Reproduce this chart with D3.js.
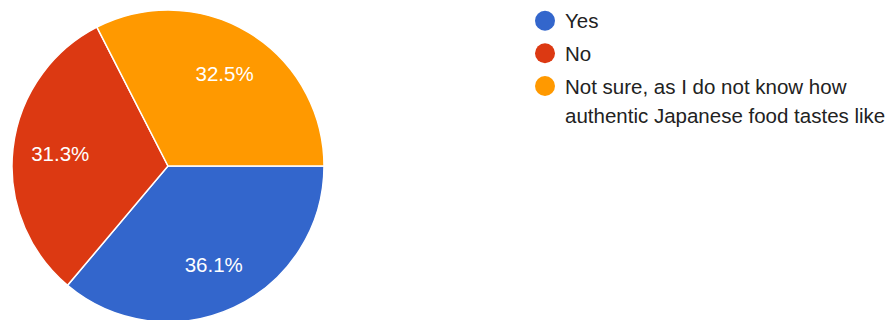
<!DOCTYPE html>
<html>
<head>
<meta charset="utf-8">
<script src="https://cdn.jsdelivr.net/npm/d3@7"></script>
<style>
  html, body { margin: 0; padding: 0; background: #fff; }
  svg { display: block; font-family: "Liberation Sans", Arial, sans-serif; }
</style>
</head>
<body>
<svg id="chart" width="894" height="320"></svg>
<script>
// Survey answers and their shares (percent)
const categories = ["Yes", "No", "Not sure, as I do not know how authentic Japanese food tastes like"];
const legendLines = [["Yes"], ["No"], ["Not sure, as I do not know how", "authentic Japanese food tastes like"]];
const shares = [36.1, 31.3, 32.5];
const colors = ["#3366cc", "#dc3912", "#ff9900"];

const svg = d3.select("#chart");
const cx = 168, cy = 166, radius = 156;

const color = d3.scaleOrdinal().domain(categories).range(colors);

// Slices run clockwise starting at 3 o'clock
const pie = d3.pie()
  .value(d => d.value)
  .sort(null)
  .startAngle(Math.PI / 2)
  .endAngle(Math.PI / 2 + 2 * Math.PI);

const data = categories.map((c, i) => ({ name: c, value: shares[i] }));
const arcs = pie(data);

const arc = d3.arc().innerRadius(0).outerRadius(radius);
const labelR = radius * 0.695;
const labelArc = d3.arc().innerRadius(labelR).outerRadius(labelR);

const g = svg.append("g").attr("transform", `translate(${cx},${cy})`);

g.selectAll("path.slice")
  .data(arcs)
  .join("path")
  .attr("class", "slice")
  .attr("d", arc)
  .attr("fill", d => color(d.data.name))
  .attr("stroke", "#ffffff")
  .attr("stroke-width", 1.5);

g.selectAll("text.pct")
  .data(arcs)
  .join("text")
  .attr("class", "pct")
  .attr("transform", d => `translate(${labelArc.centroid(d)})`)
  .attr("text-anchor", "middle")
  .attr("dy", "0.36em")
  .attr("fill", "#ffffff")
  .style("font-size", "20.5px")
  .text(d => d.data.value.toFixed(1) + "%");

// Legend
const legendX = 545;
const legendY = [20.7, 53.3, 86];
const legend = svg.append("g");

const items = legend.selectAll("g.item")
  .data(categories)
  .join("g")
  .attr("class", "item")
  .attr("transform", (d, i) => `translate(${legendX},${legendY[i]})`);

items.append("circle")
  .attr("r", 10)
  .attr("fill", d => color(d));

items.append("text")
  .attr("y", 7.5)
  .attr("fill", "#222222")
  .style("font-size", "20.5px")
  .each(function(d, i) {
    d3.select(this).selectAll("tspan")
      .data(legendLines[i])
      .join("tspan")
      .attr("x", 20)
      .attr("dy", (t, j) => j === 0 ? 0 : 29.5)
      .text(t => t);
  });
</script>
</body>
</html>
